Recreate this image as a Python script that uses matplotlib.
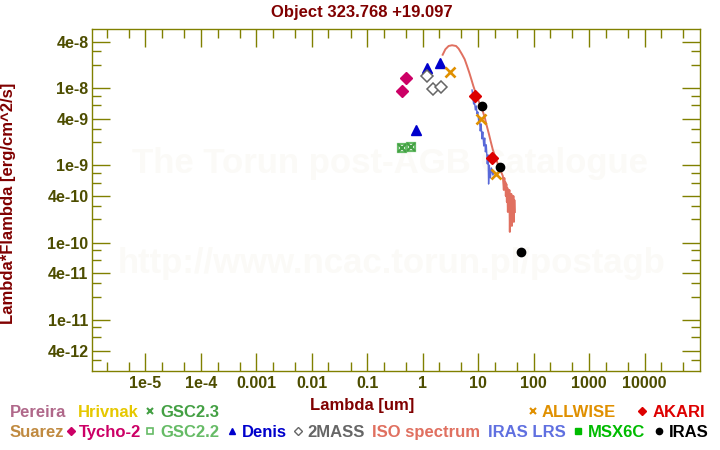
import matplotlib
matplotlib.use("Agg")
import matplotlib.pyplot as plt
from matplotlib.lines import Line2D
from matplotlib.ticker import FixedLocator, FixedFormatter, NullFormatter

plt.rcParams['font.family'] = ['Liberation Sans', 'DejaVu Sans']
plt.rcParams['font.weight'] = 'bold'

# photometry (wavelength in um, lambda*F_lambda in erg/cm^2/s)
tycho_wl = [0.416, 0.49]
tycho_f = [9.1e-9, 1.35e-8]
gsc_wl = [0.416, 0.605]
gsc_f = [1.67e-9, 1.72e-9]
denis_wl = [0.77, 1.21, 2.08]
denis_f = [2.9e-9, 1.85e-8, 2.1e-8]
tmass_wl = [1.18, 1.55, 2.10]
tmass_f = [1.43e-8, 9.9e-9, 1.05e-8]
allwise_wl = [3.15, 11.3, 21.0]
allwise_f = [1.61e-8, 3.97e-9, 7.76e-10]
akari_wl = [8.63, 17.5]
akari_f = [7.95e-9, 1.25e-9]
iras_wl = [11.5, 24.4, 58.8]
iras_f = [5.9e-9, 9.6e-10, 7.5e-11]

# ISO spectrum
iso_wl = [2.29, 2.56, 2.93, 3.38, 3.99, 4.44, 5.11, 5.70, 6.29, 6.92,
          7.52, 8.18, 8.89, 9.66, 10.7, 11.9, 13.2, 14.3, 15.6, 16.9,
          18.4, 20.4, 22.6, 25.1, 27.8,
          29.0, 29.6, 30.3, 30.9, 31.5, 32.2, 32.9, 33.6, 34.3, 35.0,
          35.7, 36.5, 37.2, 38.0, 38.8, 39.6, 40.5, 41.3, 42.2, 43.1,
          44.0, 44.9, 45.8]
iso_f = [2.72e-8, 3.20e-8, 3.53e-8, 3.61e-8, 3.53e-8, 3.26e-8, 2.75e-8, 2.38e-8, 1.95e-8, 1.59e-8,
         1.31e-8, 1.07e-8, 8.95e-9, 7.48e-9, 6.27e-9, 5.24e-9, 4.12e-9, 3.25e-9, 2.56e-9, 2.02e-9,
         1.59e-9, 1.29e-9, 1.05e-9, 8.74e-10, 7.31e-10,
         4.82e-10, 6.89e-10, 5.12e-10, 6.11e-10, 4.03e-10, 5.75e-10, 3.37e-10, 5.12e-10, 2.50e-10, 4.54e-10,
         2.99e-10, 4.82e-10, 1.38e-10, 4.03e-10, 1.86e-10, 4.28e-10, 1.65e-10, 3.79e-10, 2.22e-10, 4.03e-10,
         1.86e-10, 3.57e-10, 2.50e-10]

# IRAS LRS spectrum
lrs_wl = [7.75, 8.01, 8.28, 8.53, 8.89, 9.26, 9.53, 9.86, 10.2, 10.5, 10.9, 11.3, 11.7,
          12.1, 12.6, 13.1, 13.5, 14.0, 14.6, 15.1, 15.4, 15.9, 16.6, 17.3, 18.4, 19.5]
lrs_f = [9.5e-9, 7.72e-9, 6.26e-9, 7.05e-9, 5.24e-9, 5.9e-9, 4.65e-9, 4.93e-9, 3.77e-9, 4.25e-9,
         2.80e-9, 3.45e-9, 2.21e-9, 2.72e-9, 1.79e-9, 2.27e-9, 1.50e-9, 1.85e-9, 1.05e-9, 1.37e-9,
         5.75e-10, 1.01e-9, 6.89e-10, 9.29e-10, 7.53e-10, 8.24e-10]

xmajor = [1e-5, 1e-4, 1e-3, 1e-2, 1e-1, 1, 10, 100, 1000, 10000]
xmajor_labels = ['1e-5', '1e-4', '0.001', '0.01', '0.1', '1', '10', '100', '1000', '10000']
ymajor = [4e-8, 1e-8, 4e-9, 1e-9, 4e-10, 1e-10, 4e-11, 1e-11, 4e-12]
ymajor_labels = ['4e-8', '1e-8', '4e-9', '1e-9', '4e-10', '1e-10', '4e-11', '1e-11', '4e-12']

W, H = 720, 450
frame = '#808000'
ticklab = '#4d4d00'
maroon = '#800000'

fig = plt.figure(figsize=(7.2, 4.5), dpi=100)
fig.patch.set_facecolor('white')
ax = fig.add_axes([92.3 / W, 1 - 370.7 / H, (699.5 - 92.3) / W, (370.7 - 29.3) / H])
ax.set_xscale('log')
ax.set_yscale('log')
ax.set_xlim(10 ** -5.957, 10 ** 4.99)
ax.set_ylim(10 ** -11.658, 10 ** -7.236)

# watermark
ax.text(0.5 * (132.5 + 646.5) / W, 1 - 163 / H, 'The Torun post-AGB Catalogue', transform=fig.transFigure,
        ha='center', va='center', fontsize=25, color='#fbfaf7', zorder=0)
ax.text(0.5 * (118.4 + 665.6) / W, 1 - 263 / H, 'http://www.ncac.torun.pl/postagb', transform=fig.transFigure,
        ha='center', va='center', fontsize=25, color='#fbfaf7', zorder=0)

ax.plot(iso_wl, iso_f, color='#e07060', lw=1.4, zorder=2)
ax.plot(lrs_wl, lrs_f, color='#5868d8', lw=1.0, zorder=3)

ax.plot(gsc_wl, gsc_f, ls='none', marker='s', ms=6, mfc='none', mec='#66bb66', mew=1.6, zorder=4)
ax.plot(gsc_wl, gsc_f, ls='none', marker='x', ms=5.5, mec='#44a044', mew=1.6, zorder=4)
ax.plot(tycho_wl, tycho_f, ls='none', marker='D', ms=6, color='#cc0066', zorder=4)
ax.plot(denis_wl, denis_f, ls='none', marker='^', ms=6.5, color='#0000cc', zorder=4)
ax.plot(tmass_wl, tmass_f, ls='none', marker='D', ms=6, mfc='white', mec='#666666', mew=1.1, zorder=4)
ax.plot(allwise_wl, allwise_f, ls='none', marker='x', ms=6.5, mec='#e09000', mew=1.9, zorder=5)
ax.plot(akari_wl, akari_f, ls='none', marker='D', ms=6.5, color='#dd0000', zorder=5)
ax.plot(iras_wl, iras_f, ls='none', marker='o', ms=6, color='black', zorder=5)

# ticks
ax.xaxis.set_major_locator(FixedLocator(xmajor))
ax.xaxis.set_major_formatter(FixedFormatter(xmajor_labels))
xminor = [m * 10.0 ** e for e in range(-6, 5) for m in (2, 5)]
ax.xaxis.set_minor_locator(FixedLocator(xminor))
ax.xaxis.set_minor_formatter(NullFormatter())
ax.yaxis.set_major_locator(FixedLocator(ymajor))
ax.yaxis.set_major_formatter(FixedFormatter(ymajor_labels))
yminor = [m * 10.0 ** e for e in range(-13, -7) for m in (2, 3, 6, 8)]
ax.yaxis.set_minor_locator(FixedLocator(yminor))
ax.yaxis.set_minor_formatter(NullFormatter())
ax.tick_params(which='both', direction='in', top=True, right=True, color=frame, width=1.0)
ax.tick_params(which='major', length=13)
ax.tick_params(which='minor', length=6.5)
ax.tick_params(axis='x', which='major', pad=4, labelsize=11.5, labelcolor=ticklab)
ax.tick_params(axis='y', which='major', pad=2.8, labelsize=11.5, labelcolor=ticklab)
for s in ax.spines.values():
    s.set_color(frame)
    s.set_linewidth(1.0)

fig.text(361.5 / W, 1 - 16.7 / H, 'Object 323.768 +19.097', ha='center', va='baseline',
         fontsize=12, color=maroon)
fig.text(361.7 / W, 1 - 410 / H, 'Lambda [um]', ha='center', va='baseline', fontsize=12, color=maroon)
fig.text(9 / W, 1 - 203 / H, 'Lambda*Flambda [erg/cm^2/s]', ha='center', va='center', rotation=90,
         fontsize=12, color=maroon)

# legend: (label, color, marker, text x, row baseline y)
legend_items = [
    ('Pereira', '#b0688a', None, 10.2, 416.7),
    ('Hrivnak', '#e6c800', None, 77.5, 416.7),
    ('GSC2.3', '#44a044', ('x', 150), 160.6, 416.7),
    ('ALLWISE', '#e09000', ('x', 533), 542, 416.7),
    ('AKARI', '#dd0000', ('D', 641.5), 653, 416.7),
    ('Suarez', '#c08a40', None, 10, 436.7),
    ('Tycho-2', '#cc0066', ('D', 70.6), 78.5, 436.7),
    ('GSC2.2', '#66bb66', ('s_open', 150), 160.6, 436.7),
    ('Denis', '#0000cc', ('^', 231.7), 241.4, 436.7),
    ('2MASS', '#666666', ('D_open', 297.7), 307, 436.7),
    ('ISO spectrum', '#e07060', None, 372.4, 436.7),
    ('IRAS LRS', '#6070e0', None, 487.8, 436.7),
    ('MSX6C', '#00bb00', ('s', 577.8), 588, 436.7),
    ('IRAS', '#000000', ('o', 659), 669, 436.7),
]
for label, col, mk, tx, ty in legend_items:
    fig.text(tx / W, 1 - ty / H, label, ha='left', va='baseline', fontsize=12, color=col)
    if mk is None:
        continue
    m, mx = mk
    kw = dict(color=col, ms=4.5, ls='none')
    if m == 's_open':
        kw.update(marker='s', mfc='none', mec=col, mew=1.2, ms=4)
    elif m == 'D_open':
        kw.update(marker='D', mfc='none', mec=col, mew=1.0, ms=4.5)
    elif m == 'x':
        kw.update(marker='x', mew=1.5, ms=4.5)
    else:
        kw.update(marker=m)
    fig.add_artist(Line2D([mx / W], [1 - (ty - 5.5) / H], transform=fig.transFigure, **kw))

fig.savefig('out.png', dpi=100, facecolor='white')
